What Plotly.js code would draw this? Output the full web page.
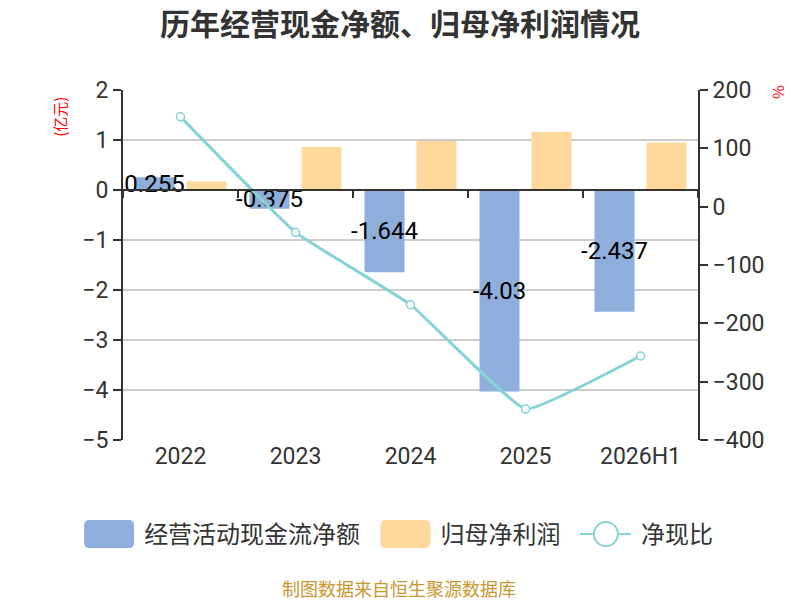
<!DOCTYPE html>
<html>
<head>
<meta charset="utf-8">
<script src="https://cdn.plot.ly/plotly-3.0.1.min.js"></script>
<style>
  html, body { margin: 0; padding: 0; background: #fff; }
  #chart { width: 800px; height: 600px; }
</style>
</head>
<body>
<div id="chart"></div>
<script>
// 数据
var years = ['2022', '2023', '2024', '2025', '2026H1']
var cashFlow = [0.255, -0.375, -1.644, -4.03, -2.437]     // 经营活动现金流净额 (亿元)
var netProfit = [0.17, 0.86, 0.98, 1.16, 0.95]           // 归母净利润 (亿元)
var cashRatio = [154, -44, -168, -347, -256]             // 净现比 (%)

var leftRange = [-5, 2]
var rightRange = [-400, 200]

var textFont = 'Roboto, "Noto Sans CJK SC", sans-serif'
var cjkFont = '"Noto Sans CJK SC", Roboto, sans-serif'

var traceCash = {
    x: years,
    y: cashFlow,
    name: '经营活动现金流净额\u00a0',
    type: 'bar',
    marker: { color: '#8eaedc' },
    text: cashFlow.map(String),
    textposition: 'inside',
    insidetextanchor: 'middle',
    textangle: 0,
    constraintext: 'none',
    textfont: { color: '#000', size: 24, family: textFont },
    cliponaxis: false
}

var traceProfit = {
    x: years,
    y: netProfit,
    name: '归母净利润\u00a0',
    type: 'bar',
    marker: { color: '#fed99b' }
}

var traceRatio = {
    x: years,
    y: cashRatio,
    name: '净现比',
    type: 'scatter',
    mode: 'lines+markers',
    xaxis: 'x2',
    yaxis: 'y2',
    line: { color: '#85d3d5', width: 3, shape: 'spline', smoothing: 0.3 },
    marker: { symbol: 'circle', size: 8, color: '#fff', line: { color: '#85d3d5', width: 1.5 } }
}

var layout = {
    width: 800,
    height: 600,
    margin: { l: 123, r: 102, t: 90, b: 160, autoexpand: false },
    paper_bgcolor: '#fff',
    plot_bgcolor: '#fff',
    barmode: 'group',
    bargap: 0.096,
    bargroupgap: 0.23,
    showlegend: true,
    title: {
        text: '<b>历年经营现金净额、归母净利润情况</b>',
        x: 0.5,
        xanchor: 'center',
        y: 0.96,
        yanchor: 'middle',
        font: { family: cjkFont, size: 30, color: '#333' }
    },
    xaxis: {
        type: 'category',
        range: [-0.5, years.length - 0.5],
        showline: false,
        showgrid: false,
        zeroline: false,
        ticks: '',
        tickfont: { family: textFont, size: 23, color: '#333' }
    },
    xaxis2: {
        type: 'category',
        overlaying: 'x',
        anchor: 'free',
        position: (0 - leftRange[0]) / (leftRange[1] - leftRange[0]),
        range: [-0.5, years.length - 0.5],
        showline: true,
        linecolor: '#333',
        linewidth: 2,
        ticks: 'outside',
        tickson: 'boundaries',
        ticklen: 7,
        tickwidth: 2,
        tickcolor: '#333',
        showticklabels: false,
        showgrid: false,
        zeroline: false
    },
    yaxis: {
        range: leftRange,
        dtick: 1,
        showline: true,
        linecolor: '#333',
        linewidth: 2,
        ticks: 'outside',
        ticklen: 8,
        tickwidth: 2,
        tickcolor: '#333',
        showgrid: true,
        gridcolor: '#cccccc',
        gridwidth: 1.5,
        zeroline: false,
        tickfont: { family: textFont, size: 23, color: '#333' }
    },
    yaxis2: {
        range: rightRange,
        dtick: 100,
        overlaying: 'y',
        side: 'right',
        showline: true,
        linecolor: '#333',
        linewidth: 2,
        ticks: 'outside',
        ticklen: 8,
        tickwidth: 2,
        tickcolor: '#333',
        showgrid: false,
        zeroline: false,
        tickfont: { family: textFont, size: 23, color: '#333' }
    },
    legend: {
        orientation: 'h',
        x: -0.085,
        xanchor: 'left',
        y: -0.27,
        yanchor: 'middle',
        font: { family: cjkFont, size: 24, color: '#333' },
        itemwidth: 60
    },
    annotations: [
        {
            text: '(亿元)',
            xref: 'paper', yref: 'paper',
            x: -0.11, y: 0.923,
            xanchor: 'center', yanchor: 'middle',
            textangle: -90,
            showarrow: false,
            font: { family: cjkFont, size: 15, color: '#ff0000' }
        },
        {
            text: '%',
            xref: 'paper', yref: 'paper',
            x: 1.137, y: 0.994,
            xanchor: 'center', yanchor: 'middle',
            textangle: -90,
            showarrow: false,
            font: { family: cjkFont, size: 15, color: '#ff0000' }
        },
        {
            text: '制图数据来自恒生聚源数据库',
            xref: 'paper', yref: 'paper',
            x: 0.48, y: -0.423,
            xanchor: 'center', yanchor: 'middle',
            showarrow: false,
            font: { family: cjkFont, size: 18, color: '#c8962e' }
        }
    ]
}

Plotly.newPlot('chart', [traceCash, traceProfit, traceRatio], layout, { displayModeBar: false, staticPlot: true })
    .then(function (gd) {
        // bigger, rounded legend swatches like the original
        var box = 'M-20,-14H20A5,5 0 0 1 25,-9V9A5,5 0 0 1 20,14H-20A5,5 0 0 1 -25,9V-9A5,5 0 0 1 -20,-14Z'
        gd.querySelectorAll('.legend .legendpoints path').forEach(function (p) {
            var d = p.getAttribute('d') || ''
            if (d.indexOf('M6,6H-6V-6H6Z') === 0) p.setAttribute('d', box)
        })
        gd.querySelectorAll('.legend .legendlines path').forEach(function (p) {
            p.setAttribute('d', 'M9,0h51')
            p.style.strokeWidth = '2px'
        })
        gd.querySelectorAll('.legend .legendpoints path.scatterpts').forEach(function (p) {
            p.setAttribute('d', 'M12,0A12,12 0 1,1 0,-12A12,12 0 0,1 12,0Z')
            p.style.strokeWidth = '2px'
        })
    })
</script>
</body>
</html>
